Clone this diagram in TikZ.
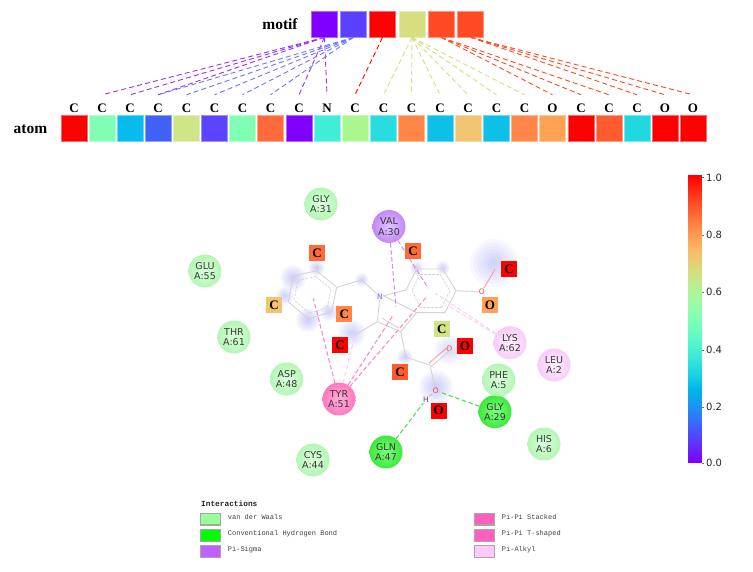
\documentclass[tikz,border=0pt]{standalone}
\usepackage{fontspec}
\setmainfont{Liberation Serif}
\newfontfamily\dejavu{DejaVu Sans}
\newfontfamily\lmono{Liberation Mono}
\usetikzlibrary{calc}
\definecolor{m1}{HTML}{8000FF}\definecolor{m2}{HTML}{5A40FF}\definecolor{m3}{HTML}{FF0000}
\definecolor{m4}{HTML}{D6DE80}\definecolor{m5}{HTML}{FF4A24}\definecolor{m6}{HTML}{FF4A24}
\definecolor{a1}{HTML}{FF0000}\definecolor{a2}{HTML}{80FFB4}\definecolor{a3}{HTML}{08BBEE}
\definecolor{a4}{HTML}{4062F8}\definecolor{a5}{HTML}{D0E488}\definecolor{a6}{HTML}{5A44FF}
\definecolor{a7}{HTML}{80FFB4}\definecolor{a8}{HTML}{FF6A3A}\definecolor{a9}{HTML}{8000FF}
\definecolor{a10}{HTML}{40EED8}\definecolor{a11}{HTML}{AAF790}\definecolor{a12}{HTML}{28DCE0}
\definecolor{a13}{HTML}{FF8648}\definecolor{a14}{HTML}{0CC0E8}\definecolor{a15}{HTML}{F2C472}
\definecolor{a16}{HTML}{0CC0E8}\definecolor{a17}{HTML}{FF8648}\definecolor{a18}{HTML}{FFA256}
\definecolor{a19}{HTML}{FF0000}\definecolor{a20}{HTML}{FF5A30}\definecolor{a21}{HTML}{20D8E0}
\definecolor{a22}{HTML}{FF0000}\definecolor{a23}{HTML}{FF0000}
\definecolor{glow}{HTML}{7878F0}
\definecolor{vdwin}{HTML}{DCFFDC}\definecolor{vdwout}{HTML}{B4F6B4}
\definecolor{hbin}{HTML}{80FF80}\definecolor{hbout}{HTML}{3CE83C}
\definecolor{tyrin}{HTML}{FFB0DC}\definecolor{tyrout}{HTML}{FF78BE}
\definecolor{valin}{HTML}{DEC4FF}\definecolor{valout}{HTML}{C488F6}
\definecolor{alkin}{HTML}{FFF0FF}\definecolor{alkout}{HTML}{F8CCF8}
\definecolor{pipi}{HTML}{FF80C8}\definecolor{pisig}{HTML}{CC88FF}\definecolor{pialk}{HTML}{FFCCF4}
\definecolor{hbond}{HTML}{44E044}\definecolor{bluelink}{HTML}{6E78FF}\definecolor{purplelink}{HTML}{9A30FF}
\definecolor{bondg}{HTML}{D4D4D4}\definecolor{bondr}{HTML}{F4A0A0}
\tikzset{
  cell/.style={minimum width=26.2pt,minimum height=26.2pt,inner sep=0pt,line width=.5pt,fill=#1,draw=#1!60!white},
  collabel/.style={minimum width=20pt,minimum height=26pt,inner sep=0pt,font=\fontsize{13}{13}\selectfont\bfseries},
  rowlabel/.style={inner sep=0pt,font=\fontsize{15.5}{16}\selectfont\bfseries},
  link/.style={dash pattern=on 5pt off 3.2pt,line width=.9pt,draw=#1},
  res/.style n args={2}{circle,minimum size=33pt,inner sep=0pt,shading=radial,inner color=#1,outer color=#2,
     align=center,text=black!78,font=\dejavu\fontsize{9.5}{10.3}\selectfont},
  attr/.style={minimum size=16pt,inner sep=0pt,fill=#1,font=\fontsize{13}{13}\selectfont\bfseries},
  bond/.style={draw=bondg,line width=.9pt},
  redbond/.style={draw=bondr,line width=.9pt},
  inner ring/.style={draw=bondg,line width=.7pt,dash pattern=on 2.5pt off 1.5pt},
  hetero/.style={inner sep=.6pt,font=\dejavu\fontsize{7.5}{8}\selectfont},
  ia/.style={dash pattern=on 4.5pt off 2.5pt,line width=1pt,draw=#1},
  legbox/.style={minimum width=20pt,minimum height=11.5pt,inner sep=0pt,draw=black!35,line width=1.3pt,fill=#1},
  legtext/.style={anchor=west,inner sep=0pt,font=\lmono\fontsize{7}{8}\selectfont,text=black!75},
  tick label/.style={anchor=west,inner sep=0pt,text=black!85,font=\dejavu\fontsize{10}{10}\selectfont},
}
\newcommand{\glowat}[3]{%
  \foreach \gk in {1,...,7}{\fill[glow,opacity=#3] (#1) circle[radius=#2*\gk/7];}}
\begin{document}
\begin{tikzpicture}[x=1pt,y=-1pt]
\useasboundingbox[fill=white] (0,0) rectangle (753,572);
% motif row
\node[rowlabel] (motiflabel) at (280,24) {motif};
\foreach \i/\x in {1/324.5,2/353.5,3/382.5,4/412,5/441,6/470.5}
  \node[cell=m\i] (m\i) at (\x,24) {};
% atom row
\node[rowlabel] (atomlabel) at (30.5,129) {atom};
\foreach \i/\x/\l in {1/74/C,2/102/C,3/130/C,4/158/C,5/186.5/C,6/214.5/C,7/242.5/C,8/270.5/C,9/299/C,10/327/N,11/355/C,12/383.5/C,13/411.5/C,14/440/C,15/468/C,16/496.5/C,17/524.5/C,18/552.5/O,19/581/C,20/609/C,21/637/C,22/665/O,23/693/O}{
  \node[cell=a\i] (a\i) at (\x,128) {};
  \node[collabel] (l\i) at (\x,108) {\l};
}
% motif-atom links
\foreach \t in {2,3,4,9,10} \draw[link=purplelink] (m1.south) -- (l\t.north);
\foreach \t in {4,5,6,7,8} \draw[link=bluelink] (m2.south) -- (l\t.north);
\draw[link=m3] (m3.south) -- (l11.north);
\foreach \t in {12,...,17} \draw[link=m4] (m4.south) -- (l\t.north);
\foreach \t in {18,19,20} \draw[link=m5] (m5.south) -- (l\t.north);
\foreach \t in {21,22,23} \draw[link=m6] (m6.south) -- (l\t.north);
% glows
\glowat{293.3,278}{13}{.06}
\glowat{316.7,268}{8}{.06}
\glowat{285,296}{9}{.05}
\glowat{308,320}{12}{.06}
\glowat{329,312}{9}{.05}
\glowat{361.7,280}{7}{.05}
\glowat{352,333}{14}{.05}
\glowat{416.7,268}{7}{.05}
\glowat{443,268}{7}{.05}
\glowat{494,263}{24}{.05}
\glowat{405,357}{8}{.05}
\glowat{436,387}{17}{.06}
\glowat{449,350}{15}{.04}
\glowat{380,296}{6}{.02}
% molecule atoms
\coordinate (b1) at (336.7,287.3);\coordinate (b2) at (331.7,311.7);\coordinate (b3) at (308.3,319);
\coordinate (b4) at (288.3,301.7);\coordinate (b5) at (293.3,276);\coordinate (b6) at (316.7,270.7);
\coordinate (bc) at (312.5,295);
\coordinate (ch2) at (361.7,280);
\node[hetero,text=blue!55!white] (nit) at (380,296.7) {N};
\coordinate (c2) at (377.3,321.7);\coordinate (me) at (355,335);
\coordinate (c3) at (400.7,331.7);
\coordinate (r1) at (406,290);\coordinate (r2) at (416.7,269);\coordinate (r3) at (442.7,269);
\coordinate (r4) at (456,290.7);\coordinate (r5) at (445,312.7);\coordinate (r6) at (416.7,312.7);
\coordinate (rc) at (431,291);
\node[hetero,text=red!75!white] (oe) at (481.7,291.7) {O};
\coordinate (ome) at (495,269.3);
\coordinate (ch2b) at (406,357.3);\coordinate (cx) at (430,365);
\node[hetero,text=red!75!white] (ok) at (449.3,348.3) {O};
\node[hetero,text=red!75!white] (oh) at (435.7,390.7) {O};
\node[hetero,text=black!70] (hh) at (426,399.5) {H};
% bonds
\draw[bond] (b1)--(b2)--(b3)--(b4)--(b5)--(b6)--cycle;
\draw[bond] (b1)--(ch2)--(nit)--(c2)--(me);
\draw[bond] (nit)--(r1)--(r2)--(r3)--(r4)--(r5)--(r6)--cycle;
\draw[bond] (r6)--(c3)--(c2);
\draw[bond] ($(c2)+(5,-3.4)$)--($(c3)+(-1.6,-3.4)$);
\draw[bond] (c3)--(ch2b)--(cx);
\draw[bond] (r4)--(oe);
\draw[redbond] (oe)--(ome);
\draw[bond] (cx)--(oh);
\draw[redbond] (oh)--(hh);
\draw[redbond] ($(cx)+(-1.2,-1.6)$)--($(ok)+(-1.2,-1.6)$);
\draw[bond] ($(cx)+(1.2,1.6)$)--($(ok)+(1.2,1.6)$);
\foreach \p/\q in {b1/b2,b2/b3,b3/b4,b4/b5,b5/b6,b6/b1}
  \draw[inner ring] ($(bc)!.76!(\p)$)--($(bc)!.76!(\q)$);
\foreach \p/\q in {r1/r2,r2/r3,r3/r4,r4/r5,r5/r6,r6/r1}
  \draw[inner ring] ($(rc)!.76!(\p)$)--($(rc)!.76!(\q)$);
% residues
\node[res={vdwin}{vdwout}] (gly31) at (321,204) {GLY\\A:31};
\node[res={valin}{valout}] (val30) at (389,226.5) {VAL\\A:30};
\node[res={vdwin}{vdwout}] (glu55) at (205,271) {GLU\\A:55};
\node[res={vdwin}{vdwout}] (thr61) at (234,337) {THR\\A:61};
\node[res={vdwin}{vdwout}] (asp48) at (286.7,379) {ASP\\A:48};
\node[res={tyrin}{tyrout}] (tyr51) at (339,399) {TYR\\A:51};
\node[res={vdwin}{vdwout}] (cys44) at (313,460) {CYS\\A:44};
\node[res={hbin}{hbout}] (gln47) at (386,452) {GLN\\A:47};
\node[res={hbin}{hbout}] (gly29) at (495,411.7) {GLY\\A:29};
\node[res={vdwin}{vdwout}] (phe5) at (498.7,380) {PHE\\A:5};
\node[res={alkin}{alkout}] (lys62) at (510,342.7) {LYS\\A:62};
\node[res={alkin}{alkout}] (leu2) at (554,365) {LEU\\A:2};
\node[res={vdwin}{vdwout}] (his6) at (544,444) {HIS\\A:6};
% interaction end points
\coordinate (t1) at (313.3,298.3);\coordinate (t2) at (393.3,315);\coordinate (t3) at (426.7,296.7);
\coordinate (v1) at (396,306.7);\coordinate (v2) at (428.3,288.3);
\coordinate (k1) at (435,293);\coordinate (k2) at (450,307);
% interactions
\draw[ia=pipi] (tyr51) -- (t1);
\draw[ia=pipi] (tyr51) -- (t2);
\draw[ia=pipi] (tyr51) -- (t3);
\draw[ia=pialk] (tyr51) -- (me);
\draw[ia=pisig] (val30) -- (v1);
\draw[ia=pisig] (val30) -- (v2);
\draw[ia=pialk] (lys62) -- (k1);
\draw[ia=pialk] (lys62) -- (k2);
\draw[ia=hbond] (gln47) -- (hh);
\draw[ia=hbond] (gly29) -- (oh);
% attribution squares
\node[attr=a8] (s1) at (317,253) {C};
\node[attr=a15] (s2) at (274,305) {C};
\node[attr=a13] (s3) at (344.3,314) {C};
\node[attr=a1] (s4) at (340,345.3) {C};
\node[attr=a8] (s5) at (413,251) {C};
\node[attr=a1] (s6) at (509,269) {C};
\node[attr=a18] (s7) at (490,305) {O};
\node[attr=a5] (s8) at (441.7,329.3) {C};
\node[attr=a1] (s9) at (465,346) {O};
\node[attr=a20] (s10) at (400,372) {C};
\node[attr=a1] (s11) at (438.7,410.7) {O};
% legend
\definecolor{l1}{HTML}{99FF99}\definecolor{l2}{HTML}{00FF00}\definecolor{l3}{HTML}{C060FF}
\definecolor{l4}{HTML}{FF60C0}\definecolor{l6}{HTML}{FFC8FF}
\node[anchor=west,inner sep=0pt,font=\lmono\bfseries\fontsize{7.8}{8}\selectfont,text=black!85] (legtitle) at (201,503.5) {Interactions};
\node[legbox=l1] (lb1) at (210.8,519.3) {};
\node[legbox=l2] (lb2) at (210.8,535.5) {};
\node[legbox=l3] (lb3) at (210.8,551.5) {};
\node[legbox=l4] (lb4) at (484.5,519.3) {};
\node[legbox=l4] (lb5) at (484.5,535.5) {};
\node[legbox=l6] (lb6) at (484.5,551.5) {};
\node[legtext] (lt1) at (227.7,517.5) {van der Waals};
\node[legtext] (lt2) at (227.7,533.7) {Conventional Hydrogen Bond};
\node[legtext] (lt3) at (227.7,549.7) {Pi-Sigma};
\node[legtext] (lt4) at (501.7,517.5) {Pi-Pi Stacked};
\node[legtext] (lt5) at (501.7,533.7) {Pi-Pi T-shaped};
\node[legtext] (lt6) at (501.7,549.7) {Pi-Alkyl};
% colour bar
\foreach \i in {0,...,143}{
  \pgfmathsetmacro\cx{\i/143}
  \pgfmathsetmacro\cr{min(1,abs(2*\cx-.5))}
  \pgfmathsetmacro\cg{abs(sin(180*\cx))}
  \pgfmathsetmacro\cb{abs(cos(90*\cx))}
  \definecolor{barc}{rgb}{\cr,\cg,\cb}
  \fill[barc] (687.7,{463.3-2*\i}) rectangle (702.3,{463.3-2*\i-2.4});
}
\foreach \v/\y in {0.0/463.3,0.2/406.7,0.4/349.7,0.6/292.3,0.8/235,1.0/177.5}{
  \draw[black!55,line width=.4pt] (702.3,\y) -- (704.3,\y);
  \node[tick label] (tick\v) at (706,\y) {\v};
}
\end{tikzpicture}
\end{document}
